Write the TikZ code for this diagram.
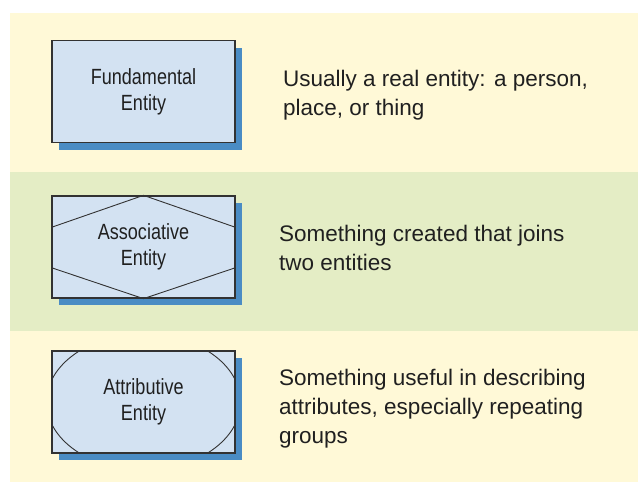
\documentclass[tikz,border=0pt]{standalone}
\usepackage{fontspec}
\setmainfont{Liberation Sans}
\newfontfamily\boxfont[FakeStretch=0.82]{Liberation Sans}
\usepackage{tikz}
\usetikzlibrary{shadows,calc}
\definecolor{bandyellow}{RGB}{255,249,215}
\definecolor{bandgreen}{RGB}{228,237,197}
\definecolor{boxblue}{RGB}{211,226,242}
\definecolor{shadowblue}{RGB}{74,140,196}
\definecolor{boxline}{RGB}{50,50,50}
\definecolor{inkgray}{RGB}{32,32,32}

\begin{document}
\begin{tikzpicture}[x=1pt, y=-1pt,
    entity/.style={draw=boxline, fill=boxblue, line width=1.3pt,
      minimum width=183pt, minimum height=102pt, inner sep=0pt,
      align=center, text=inkgray, font=\boxfont\fontsize{22}{26}\selectfont,
      drop shadow={shadow xshift=7pt, shadow yshift=-7pt, fill=shadowblue, opacity=1}},
    note/.style={anchor=west, align=left, inner sep=0pt, text=inkgray,
      font=\fontsize{22.5}{29}\selectfont},
    inner line/.style={draw=boxline, line width=0.9pt}]
        \useasboundingbox (0,0) rectangle (638,482);
        % bands
        \fill [bandyellow] (10,13) rectangle (638,172);
        \fill [bandgreen] (10,172) rectangle (638,331);
        \fill [bandyellow] (10,331) rectangle (638,482);
        % fundamental
        \node [entity] (fund) at (143.5,91.5) {Fundamental\\Entity};
        \node [note] (fundtxt) at (283,94.7) {Usually a real entity: a person,\\place, or thing};
        % associative
        \node [entity] (assoc) at (143.5,247) {Associative\\Entity};
        \draw [inner line] ($(assoc.north west)!0.31!(assoc.south west)$) -- (assoc.north) -- ($(assoc.north east)!0.31!(assoc.south east)$);
        \draw [inner line] ($(assoc.north west)!0.70!(assoc.south west)$) -- (assoc.south) -- ($(assoc.north east)!0.70!(assoc.south east)$);
        \node [note] (assoctxt) at (279,247.8) {Something created that joins\\two entities};
        % attributive
        \node [entity] (attr) at (143.5,402) {Attributive\\Entity};
        \begin{scope}
          \clip (attr.north west) rectangle (attr.south east);
          \draw [inner line] (attr.center) ellipse [x radius=97pt, y radius=68pt];
        \end{scope}
        \node [note] (attrtxt) at (279,409) {Something useful in describing\\attributes, especially repeating\\groups};
\end{tikzpicture}
\end{document}
